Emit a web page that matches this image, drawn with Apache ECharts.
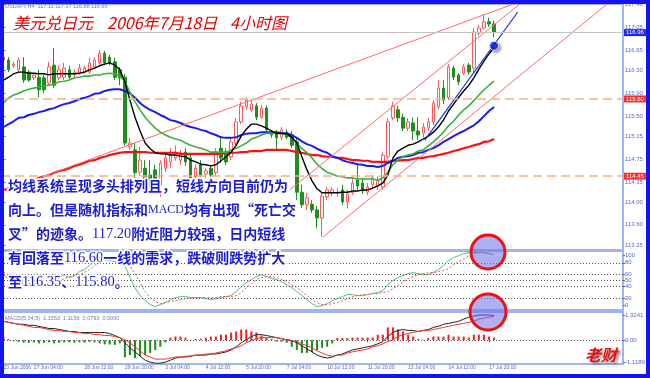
<!DOCTYPE html>
<html><head><meta charset="utf-8">
<script src="https://cdn.jsdelivr.net/npm/echarts@6/dist/echarts.min.js"></script>
<style>html,body{margin:0;padding:0;background:#fff;}#c{width:650px;height:378px;}</style>
</head><body><div id="c"></div>
<script>
// ---------- data ----------
const slotCount = 123; // bar slots incl. empty right margin
const timeLabelIdx = [0,6,16,24,32,40,48,56,64,72,80,88,96];
const timeLabelText = ["23 Jun 2006","27 Jun 04:00","28 Jun 12:00","29 Jun 20:00","3 Jul 04:00","4 Jul 12:00","5 Jul 20:00","7 Jul 04:00","10 Jul 12:00","11 Jul 20:00","13 Jul 04:00","14 Jul 12:00","17 Jul 20:00"];

const opens = [116.48,116.48,116.38,116.31,116.36,116.27,116.17,116.18,116.17,116.08,
116.39,116.17,116.18,116.31,116.22,116.25,116.27,116.27,116.36,116.43,
116.60,116.53,116.45,116.31,116.18,114.96,114.91,114.52,114.59,114.47,
114.56,114.30,114.59,114.70,114.77,114.73,114.87,114.77,114.44,114.65,
114.49,114.59,114.51,114.94,114.87,114.79,115.03,115.40,115.66,115.61,
115.68,115.48,115.64,115.22,115.20,115.13,115.22,115.17,115.05,114.17,
113.95,113.96,113.86,113.72,114.09,114.16,114.16,114.21,114.00,114.16,
114.38,114.33,114.17,114.30,114.28,114.26,114.79,115.47,115.61,115.48,
115.29,115.38,115.24,115.20,115.29,115.40,115.66,115.99,115.82,116.34,
116.22,116.25,116.39,116.34,116.95,117.04,117.15,117.11];
const closes = [116.53,116.31,116.41,116.48,116.13,116.13,116.22,115.96,115.96,116.36,
116.04,116.31,116.34,116.18,116.27,116.34,116.34,116.43,116.48,116.60,
116.43,116.43,116.18,116.17,115.03,115.03,114.51,114.73,114.28,114.38,
114.35,114.68,114.77,114.82,114.87,114.86,114.70,114.42,114.59,114.47,
114.54,114.47,114.87,114.77,114.70,115.05,115.40,115.68,115.78,115.71,
115.48,115.64,115.26,115.17,115.12,115.26,115.13,114.99,114.17,113.95,
114.07,113.86,113.72,114.10,114.21,114.21,114.17,114.00,114.14,114.33,
114.28,114.19,114.26,114.42,114.38,114.82,115.40,115.68,115.47,115.29,
115.40,115.24,115.17,115.31,115.40,115.73,115.99,115.78,116.36,116.18,
116.10,116.36,116.27,116.97,117.04,117.15,117.11,116.96];
const lows = [116.45,116.27,116.34,116.27,116.08,116.10,116.13,115.83,115.90,116.03,
115.99,116.13,116.13,116.15,116.18,116.22,116.24,116.24,116.32,116.39,
116.39,116.39,116.13,116.04,114.99,114.91,114.42,114.45,114.21,114.26,
114.28,114.09,114.52,114.59,114.72,114.65,114.63,114.37,114.38,114.42,
114.42,114.44,114.45,114.68,114.65,114.73,114.99,115.36,115.61,115.57,
115.43,115.45,115.20,115.12,114.91,115.08,115.10,114.94,114.03,113.89,
113.86,113.81,113.54,113.39,114.03,114.10,114.09,113.95,113.89,114.12,
114.21,114.14,114.12,114.24,114.21,114.21,114.75,115.43,115.40,115.24,
115.24,115.08,115.08,115.13,115.24,115.34,115.62,115.71,115.78,116.13,
116.04,116.22,116.22,116.25,116.90,117.01,117.06,116.88];
const highs = [116.60,116.53,116.45,116.53,116.53,116.31,116.25,116.31,116.22,116.45,
116.69,116.38,116.43,116.38,116.32,116.41,116.38,116.52,116.53,116.66,
116.64,116.57,116.52,116.36,116.24,115.12,115.03,114.96,114.73,114.73,
114.65,114.73,114.84,114.94,114.99,114.91,114.94,114.82,114.66,114.73,
114.59,114.65,114.94,115.15,114.94,115.12,115.47,115.75,115.83,115.78,
115.73,115.69,115.69,115.26,115.26,115.31,115.27,115.24,115.12,114.30,
114.16,114.03,113.93,114.17,114.26,114.26,114.24,114.30,114.21,114.42,
114.65,114.42,114.33,114.47,114.45,114.87,115.47,115.75,115.68,115.54,
115.47,115.48,115.48,115.38,115.47,115.78,116.13,116.13,116.41,116.38,
116.25,116.41,116.43,117.04,117.09,117.29,117.22,117.17];

const maBlack = [116.13,116.18,116.24,116.27,116.27,116.25,116.25,116.24,116.24,116.22,
116.24,116.24,116.24,116.24,116.24,116.25,116.27,116.31,116.34,116.38,
116.41,116.43,116.39,116.31,116.10,115.78,115.48,115.24,115.03,114.93,
114.86,114.84,114.84,114.82,114.82,114.80,114.79,114.73,114.70,114.66,
114.65,114.63,114.65,114.72,114.79,114.87,114.99,115.15,115.27,115.36,
115.36,115.33,115.29,115.24,115.20,115.20,115.19,115.13,115.03,114.79,
114.56,114.37,114.23,114.16,114.16,114.16,114.16,114.17,114.17,114.19,
114.19,114.21,114.21,114.24,114.28,114.33,114.47,114.77,114.89,114.94,
114.99,115.01,115.05,115.10,115.15,115.22,115.31,115.43,115.59,115.71,
115.83,115.94,116.04,116.17,116.32,116.46,116.59,116.69];
const maGreen = [115.73,115.82,115.87,115.90,115.94,115.97,115.99,116.01,116.03,116.04,
116.06,116.10,116.11,116.13,116.17,116.18,116.20,116.20,116.22,116.22,
116.24,116.25,116.24,116.20,116.10,115.92,115.75,115.61,115.48,115.38,
115.29,115.22,115.17,115.13,115.10,115.08,115.03,114.99,114.96,114.94,
114.91,114.87,114.87,114.87,114.87,114.91,114.94,114.98,115.03,115.10,
115.13,115.17,115.20,115.20,115.20,115.19,115.17,115.13,115.03,114.93,
114.86,114.77,114.66,114.58,114.52,114.49,114.45,114.44,114.42,114.42,
114.40,114.40,114.40,114.40,114.38,114.42,114.52,114.65,114.73,114.79,
114.82,114.84,114.89,114.91,114.98,115.05,115.13,115.22,115.33,115.41,
115.52,115.61,115.68,115.77,115.87,115.96,116.04,116.11];
const maBlue = [115.31,115.36,115.41,115.47,115.48,115.52,115.54,115.57,115.59,115.62,
115.64,115.68,115.71,115.73,115.76,115.80,115.82,115.85,115.89,115.90,
115.94,115.96,115.97,115.97,115.94,115.90,115.82,115.73,115.66,115.61,
115.57,115.52,115.48,115.43,115.41,115.38,115.34,115.31,115.29,115.26,
115.24,115.20,115.17,115.13,115.12,115.12,115.13,115.17,115.19,115.20,
115.20,115.22,115.22,115.22,115.22,115.20,115.20,115.17,115.12,115.06,
115.01,114.98,114.93,114.89,114.86,114.80,114.77,114.73,114.70,114.68,
114.66,114.65,114.63,114.63,114.61,114.63,114.68,114.72,114.77,114.79,
114.80,114.82,114.86,114.87,114.91,114.94,114.99,115.05,115.10,115.15,
115.20,115.24,115.29,115.34,115.41,115.50,115.59,115.66];
const maRed = [114.21,114.24,114.26,114.30,114.33,114.35,114.38,114.42,114.45,114.47,
114.51,114.54,114.56,114.59,114.63,114.65,114.68,114.72,114.73,114.77,
114.79,114.82,114.84,114.86,114.87,114.87,114.87,114.87,114.87,114.86,
114.86,114.86,114.86,114.86,114.86,114.84,114.84,114.84,114.84,114.84,
114.84,114.84,114.84,114.84,114.86,114.86,114.86,114.87,114.87,114.89,
114.89,114.89,114.91,114.91,114.91,114.91,114.91,114.89,114.87,114.86,
114.84,114.82,114.82,114.80,114.79,114.79,114.77,114.77,114.75,114.73,
114.73,114.72,114.72,114.70,114.70,114.70,114.70,114.72,114.72,114.73,
114.73,114.75,114.77,114.77,114.79,114.80,114.82,114.84,114.86,114.89,
114.91,114.94,114.96,114.99,115.01,115.05,115.06,115.10];

const stochK = [60.0,51.5,48.1,54.9,43.0,41.3,46.4,41.3,43.0,48.1,
43.0,54.9,60.0,54.9,58.3,65.1,68.5,75.2,82.0,88.8,
85.4,83.7,82.0,80.3,75.2,54.9,37.9,24.4,15.9,9.1,
5.7,9.1,12.5,17.6,21.0,22.7,22.7,21.0,21.0,21.0,
19.3,17.6,19.3,21.0,22.7,24.4,31.2,39.6,46.4,51.5,
56.6,60.0,56.6,53.2,51.5,48.1,43.0,37.9,31.2,24.4,
17.6,10.8,5.7,7.4,10.8,15.9,19.3,22.7,26.1,26.1,
24.4,24.4,26.1,27.8,29.5,32.8,43.0,49.8,54.9,58.3,
61.7,63.4,61.7,60.0,60.0,63.4,68.5,75.2,83.7,88.8,
92.2,95.6,97.3,97.3,97.3,97.3,95.6,93.9];
const stochD = [65.1,58.3,53.2,51.5,48.1,44.7,41.3,41.3,41.3,41.3,
41.3,48.1,53.2,56.6,58.3,60.0,63.4,68.5,75.2,80.3,
85.4,85.4,85.4,83.7,82.0,75.2,61.7,46.4,31.2,21.0,
14.2,10.8,12.5,14.2,15.9,17.6,19.3,21.0,21.0,21.0,
21.0,21.0,21.0,22.7,22.7,22.7,24.4,29.5,37.9,44.7,
51.5,54.9,56.6,56.6,54.9,51.5,48.1,43.0,37.9,31.2,
24.4,17.6,12.5,9.1,9.1,10.8,12.5,15.9,19.3,22.7,
24.4,26.1,26.1,27.8,27.8,29.5,31.2,36.2,41.3,48.1,
53.2,56.6,60.0,61.7,63.4,63.4,65.1,66.8,70.2,76.9,
82.0,87.1,92.2,95.6,97.3,97.3,95.6,93.9];

const macdMain = [0.89,0.84,0.79,0.75,0.75,0.70,0.70,0.65,0.60,0.55,
0.55,0.50,0.46,0.41,0.41,0.36,0.36,0.36,0.36,0.36,
0.36,0.31,0.22,0.12,-0.12,-0.36,-0.55,-0.75,-0.94,-1.03,
-1.08,-1.08,-1.03,-0.94,-0.84,-0.79,-0.79,-0.75,-0.70,-0.70,
-0.70,-0.65,-0.65,-0.60,-0.55,-0.46,-0.31,-0.12,0.02,0.17,
0.26,0.26,0.22,0.17,0.12,0.07,0.02,-0.02,-0.12,-0.26,
-0.41,-0.55,-0.70,-0.79,-0.84,-0.79,-0.70,-0.65,-0.55,-0.46,
-0.41,-0.36,-0.31,-0.26,-0.17,-0.07,0.17,0.36,0.46,0.50,
0.46,0.46,0.41,0.46,0.50,0.60,0.65,0.75,0.79,0.84,
0.89,0.99,1.08,1.13,1.18,1.18,1.18,1.16];
const macdSignal = [0.89,0.84,0.79,0.75,0.70,0.65,0.60,0.60,0.55,0.50,
0.46,0.46,0.41,0.41,0.36,0.36,0.31,0.31,0.26,0.26,
0.22,0.22,0.17,0.12,0.02,-0.12,-0.31,-0.50,-0.70,-0.79,
-0.89,-0.89,-0.89,-0.84,-0.79,-0.79,-0.75,-0.75,-0.70,-0.70,
-0.65,-0.65,-0.60,-0.55,-0.50,-0.41,-0.36,-0.26,-0.12,-0.02,
0.07,0.12,0.12,0.12,0.12,0.07,0.02,-0.02,-0.07,-0.17,
-0.26,-0.36,-0.50,-0.60,-0.70,-0.75,-0.70,-0.70,-0.60,-0.55,
-0.50,-0.46,-0.41,-0.31,-0.26,-0.17,-0.07,0.02,0.17,0.26,
0.31,0.36,0.41,0.46,0.46,0.50,0.55,0.60,0.65,0.70,
0.75,0.79,0.84,0.89,0.99,1.03,1.08,1.12];
const macdHist = [0.17,0.05,-0.05,-0.08,-0.12,-0.12,-0.10,-0.15,-0.12,-0.10,
-0.15,-0.12,-0.10,-0.10,-0.12,-0.10,-0.12,-0.08,-0.10,-0.15,
-0.20,-0.20,-0.22,-0.15,-0.80,-0.70,-0.84,-0.75,-0.70,-0.60,
-0.46,-0.31,-0.10,0.12,0.17,0.17,0.12,0.02,0.05,0.07,
0.12,0.17,0.17,0.26,0.26,0.36,0.41,0.50,0.50,0.41,
0.36,0.22,0.12,0.05,-0.07,-0.07,-0.12,-0.31,-0.46,-0.60,
-0.60,-0.55,-0.46,-0.36,-0.31,-0.15,0.10,0.10,0.10,0.12,
0.12,0.12,0.12,0.12,0.26,0.26,0.60,0.60,0.50,0.41,
0.26,0.17,0.05,0.02,0.10,0.17,0.17,0.17,0.26,0.17,
0.17,0.17,0.12,0.26,0.26,0.26,0.17,0.12];

const priceTicks = [117.46,117.05,116.65,116.30,115.90,115.50,115.15,114.75,114.35,114.00,113.60,113.25];
const stochTickPos = [7.5,20,40,50,60,80,93];
const stochTickText = ["0","20","40","50","60","80","100"];
const macdTickPos = [1.18,0,-1.02];
const macdTickText = ["1.3241","0.00","-1.1189"];

const bidLevel = 116.96;
const resistLevels = [115.80, 114.45];
const trendLinesRed = [
  [[0.3,114.20],[102.1,117.50]],
  [[56.6,114.21],[102.1,117.46]],
  [[63.2,113.39],[119.9,117.50]]
];
const trendLineBlue = [[83.3,115.08],[101.7,117.32]];
const markerDot = [97, 116.73];

const headerText = "USDJPY,H4  117.11 117.17 116.88 116.96";
const macdHeader = "MACD(5,34,5)  1.1553  1.1156  0.0793  0.0000";
const noteLines = [
  "均线系统呈现多头排列且，短线方向目前仍为",
  "向上。但是随机指标和{m|MACD}均有出现“死亡交",
  "叉”的迹象。{n|117.20}附近阻力较强，日内短线",
  "有回落至{n|116.60}一线的需求，跌破则跌势扩大",
  "至{n|116.35}、{n|115.80}。"
];

// ---------- build ----------
const cats = [];
for (let i = 0; i < slotCount; i++) {
  const k = timeLabelIdx.indexOf(i);
  cats.push(k >= 0 ? timeLabelText[k] : '');
}
const candleData = opens.map((o, i) => [o, closes[i], lows[i], highs[i]]);
const CJK = '"Noto Sans CJK SC", "Noto Sans", sans-serif';
const AX = '"Liberation Sans", Arial, sans-serif';
const axColor = '#5466dc';
const frameColor = '#a3b3f2';

function catAxis(grid, showLabels) {
  return {
    type: 'category', gridIndex: grid, data: cats, boundaryGap: true,
    axisLine: { show: false }, splitLine: { show: false },
    axisTick: showLabels ? { show: true, interval: (i, v) => v !== '', alignWithLabel: true, length: 2, lineStyle: { color: axColor } } : { show: false },
    axisLabel: showLabels ? { show: true, interval: (i, v) => v !== '', align: 'left', fontSize: 5, fontFamily: AX, color: axColor, margin: 1.5 } : { show: false }
  };
}
const noteStyleN = { fontFamily: '"Liberation Serif", serif', fontWeight: 'normal', fontSize: 14.5, fill: '#1c1cd6', stroke: '#ffffff', lineWidth: 3, verticalAlign: 'middle' };
const noteStyleM = { fontFamily: '"Liberation Serif", serif', fontWeight: 'normal', fontSize: 12, fill: '#1c1cd6', stroke: '#ffffff', lineWidth: 3, verticalAlign: 'middle' };

const graphics = [];
noteLines.forEach((t, i) => {
  graphics.push({
    type: 'text', x: 8, y: 186 + i * 24, z: 200,
    style: {
      text: t, fill: '#1c1cd6', stroke: '#ffffff', lineWidth: 3,
      fontSize: 14, fontWeight: 'bold', fontFamily: CJK,
      verticalAlign: 'middle', textVerticalAlign: 'middle',
      rich: { n: noteStyleN, m: noteStyleM }
    }
  });
});
[['美元兑日元', 13], ['2006年7月18日', 107], ['4小时图', 230]].forEach(([t, x]) => {
  graphics.push({ type: 'text', x: x, y: 23, z: 200,
    style: { text: t, fill: '#e60000', fontSize: 16, fontStyle: 'italic', fontFamily: CJK, verticalAlign: 'middle', textVerticalAlign: 'middle' } });
});
graphics.push({ type: 'text', x: 5, y: 6, z: 200, style: { text: headerText, fill: '#6a78c0', fontSize: 5.5, fontFamily: AX, verticalAlign: 'middle', textVerticalAlign: 'middle' } });
graphics.push({ type: 'text', x: 5, y: 318, z: 200, style: { text: macdHeader, fill: '#6a78c0', fontSize: 5.5, fontFamily: AX, verticalAlign: 'middle', textVerticalAlign: 'middle' } });
graphics.push({ type: 'circle', z: 150, shape: { cx: 488, cy: 252, r: 17 }, style: { fill: 'rgba(110,110,235,0.55)', stroke: '#ee1111', lineWidth: 3 } });
graphics.push({ type: 'circle', z: 150, shape: { cx: 488, cy: 312, r: 18 }, style: { fill: 'rgba(110,110,235,0.55)', stroke: '#ee1111', lineWidth: 3 } });
graphics.push({ type: 'text', x: 585, y: 355, z: 200, style: { text: '老财', fill: '#e81010', fontSize: 16, fontStyle: 'italic', fontWeight: 'bold', fontFamily: CJK, verticalAlign: 'middle', textVerticalAlign: 'middle', textShadowColor: 'rgba(0,0,0,0.45)', textShadowBlur: 3, textShadowOffsetX: 2, textShadowOffsetY: 2 } });
graphics.push({ type: 'rect', z: 300, shape: { x: 0, y: 0, width: 650, height: 378 }, style: { fill: null, stroke: '#1414f0', lineWidth: 8 } });

const levelLabel = { position: 'end', distance: 1, fontSize: 6, fontFamily: AX, color: '#ffffff', padding: [1, 2, 0, 2] };
const dotted = { color: '#555555', type: [1, 2], width: 1 };

const option = {
  animation: false,
  backgroundColor: '#ffffff',
  grid: [
    { left: 1, right: 27, top: 4, height: 246, show: true, borderColor: frameColor, borderWidth: 2, backgroundColor: 'transparent' },
    { left: 1, right: 27, top: 251, height: 59, show: true, borderColor: frameColor, borderWidth: 2 },
    { left: 1, right: 27, top: 312, height: 52, show: true, borderColor: frameColor, borderWidth: 2 }
  ],
  xAxis: [
    catAxis(0, false), catAxis(1, false), catAxis(2, true),
    { type: 'value', gridIndex: 0, min: -0.5, max: slotCount - 0.5, show: false }
  ],
  yAxis: [
    { type: 'value', gridIndex: 0, position: 'right', min: 113.16, max: 117.46, splitLine: { show: false },
      axisLine: { show: true, lineStyle: { color: frameColor } },
      axisTick: { show: true, customValues: priceTicks, length: 2, lineStyle: { color: axColor } },
      axisLabel: { customValues: priceTicks, formatter: v => v.toFixed(2), fontSize: 6, fontFamily: AX, color: axColor, margin: 2 } },
    { type: 'value', gridIndex: 1, position: 'right', min: 0, max: 100, splitLine: { show: false },
      axisLine: { show: true, lineStyle: { color: frameColor } },
      axisTick: { show: true, customValues: stochTickPos, length: 2, lineStyle: { color: axColor } },
      axisLabel: { customValues: stochTickPos, formatter: v => stochTickText[stochTickPos.indexOf(v)], fontSize: 6, fontFamily: AX, color: axColor, margin: 2 } },
    { type: 'value', gridIndex: 2, position: 'right', min: -1.1189, max: 1.3241, splitLine: { show: false },
      axisLine: { show: true, lineStyle: { color: frameColor } },
      axisTick: { show: true, customValues: macdTickPos, length: 2, lineStyle: { color: axColor } },
      axisLabel: { customValues: macdTickPos, formatter: v => macdTickText[macdTickPos.indexOf(v)], fontSize: 6, fontFamily: AX, color: axColor, margin: 2 } }
  ],
  graphic: graphics,
  series: [
    { type: 'candlestick', xAxisIndex: 0, yAxisIndex: 0, data: candleData, barWidth: 3, z: 2,
      itemStyle: { color: '#ffffff', color0: '#1e8e1e', borderColor: '#ff5a5a', borderColor0: '#1e8e1e', borderWidth: 1 },
      markLine: { symbol: ['none', 'none'], silent: true, animation: false,
        data: [
          { yAxis: bidLevel, lineStyle: { color: '#c4c4c4', type: 'solid', width: 1 }, label: Object.assign({}, levelLabel, { formatter: bidLevel.toFixed(2), backgroundColor: '#2424ee' }) },
          ...resistLevels.map(v => ({ yAxis: v, lineStyle: { color: '#ffab85', type: [9, 5], width: 1.5 }, label: Object.assign({}, levelLabel, { formatter: v.toFixed(2), backgroundColor: '#ff2e2e' }) }))
        ] } },
    { type: 'line', xAxisIndex: 0, yAxisIndex: 0, data: maRed, symbol: 'none', z: 3, lineStyle: { color: '#ff1010', width: 2.2 } },
    { type: 'line', xAxisIndex: 0, yAxisIndex: 0, data: maBlue, symbol: 'none', z: 3, lineStyle: { color: '#1c1cf0', width: 2 } },
    { type: 'line', xAxisIndex: 0, yAxisIndex: 0, data: maGreen, symbol: 'none', z: 3, lineStyle: { color: '#3cb03c', width: 1.6 } },
    { type: 'line', xAxisIndex: 0, yAxisIndex: 0, data: maBlack, symbol: 'none', z: 3, lineStyle: { color: '#000000', width: 1.4 } },
    ...trendLinesRed.map(d => ({ type: 'line', xAxisIndex: 3, yAxisIndex: 0, data: d, symbol: 'none', z: 4, lineStyle: { color: '#ff6a6a', width: 1 } })),
    { type: 'line', xAxisIndex: 3, yAxisIndex: 0, data: trendLineBlue, symbol: 'none', z: 4, lineStyle: { color: '#1a2ef0', width: 1.2 } },
    { type: 'scatter', xAxisIndex: 0, yAxisIndex: 0, data: [markerDot], symbolSize: 9, z: 5,
      itemStyle: { color: '#0a20ee', borderColor: '#ffffff', borderWidth: 1, shadowBlur: 3, shadowColor: 'rgba(0,0,0,0.5)', shadowOffsetX: 2, shadowOffsetY: 2 } },
    { type: 'line', xAxisIndex: 1, yAxisIndex: 1, data: stochK, symbol: 'none', z: 3, lineStyle: { color: '#4cc080', width: 1 },
      markLine: { symbol: ['none', 'none'], silent: true, label: { show: false }, lineStyle: dotted,
        data: [{ yAxis: 20 }, { yAxis: 40 }, { yAxis: 50 }, { yAxis: 60 }, { yAxis: 80 }] } },
    { type: 'line', xAxisIndex: 1, yAxisIndex: 1, data: stochD, symbol: 'none', z: 3, lineStyle: { color: '#ff4a4a', width: 1, type: [2, 2] } },
    { type: 'bar', xAxisIndex: 2, yAxisIndex: 2, data: macdHist, barWidth: 2, z: 2,
      itemStyle: { color: p => (p.value >= 0 ? '#ff1a1a' : '#1a8c1a') },
      markLine: { symbol: ['none', 'none'], silent: true, label: { show: false }, lineStyle: dotted, data: [{ yAxis: 0 }] } },
    { type: 'line', xAxisIndex: 2, yAxisIndex: 2, data: macdMain, symbol: 'none', z: 3, lineStyle: { color: '#222222', width: 1 } },
    { type: 'line', xAxisIndex: 2, yAxisIndex: 2, data: macdSignal, symbol: 'none', z: 3, lineStyle: { color: '#ff3030', width: 1 } }
  ]
};
const chart = echarts.init(document.getElementById('c'), null, { renderer: 'canvas' });
chart.setOption(option);
</script>
</body></html>
